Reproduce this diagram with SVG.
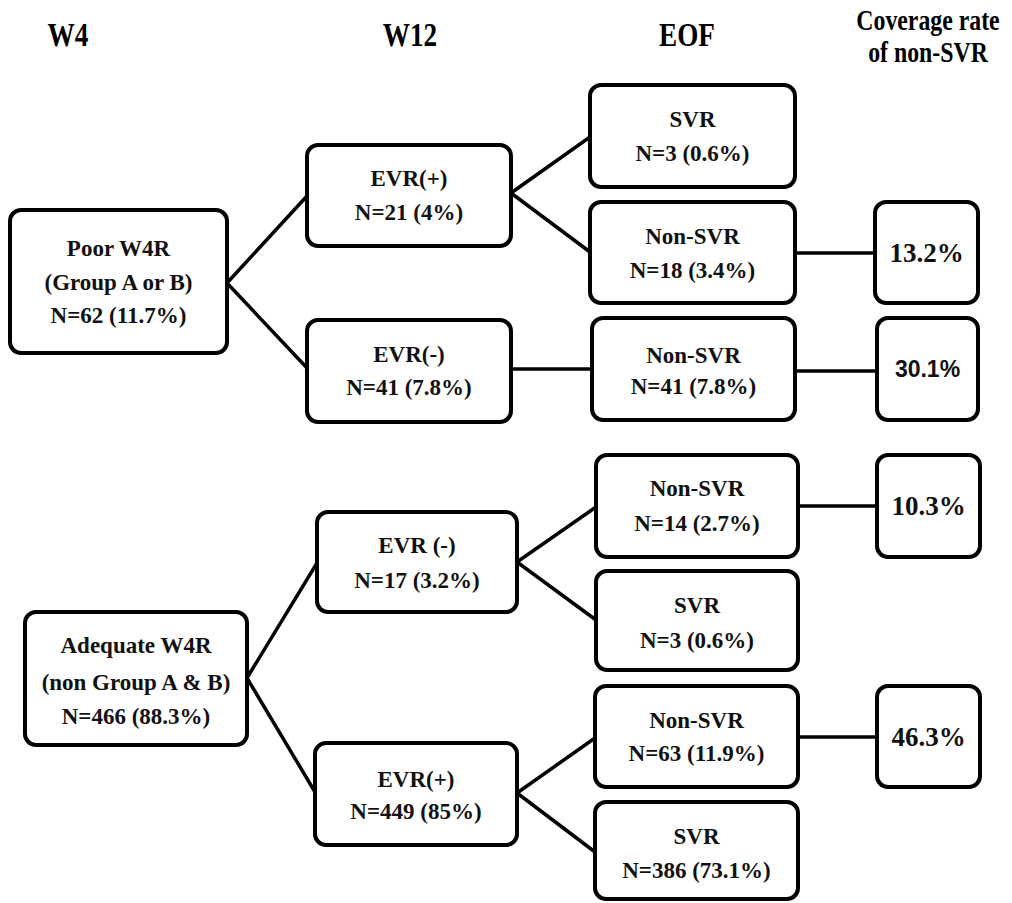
<svg xmlns="http://www.w3.org/2000/svg" width="1012" height="903" viewBox="0 0 1012 903">
<style>
.box{fill:#fff;stroke:#000;stroke-width:4;}
.t{font-family:"Liberation Serif","Times New Roman",serif;font-weight:bold;font-size:23px;fill:#111;text-anchor:middle;}
.pct{font-family:"Liberation Serif","Times New Roman",serif;font-weight:bold;font-size:27px;fill:#111;text-anchor:middle;}
.pcts{font-family:"Liberation Sans",Arial,sans-serif;font-weight:bold;font-size:23px;fill:#111;text-anchor:middle;}
.h{font-family:"Liberation Serif","Times New Roman",serif;font-weight:bold;font-size:32px;fill:#000;text-anchor:middle;}
.h2{font-family:"Liberation Serif","Times New Roman",serif;font-weight:bold;font-size:28px;fill:#000;text-anchor:middle;}
.c{stroke:#000;stroke-width:3.5;fill:none;}
</style>
<rect width="1012" height="903" fill="#fff"/>
<g id="headers">
<text class="h" transform="translate(68,46) scale(0.85,1.08)">W4</text>
<text class="h" transform="translate(410,46) scale(0.85,1.08)">W12</text>
<text class="h" transform="translate(687,46) scale(0.85,1.08)">EOF</text>
<text class="h2" transform="translate(928,30) scale(0.85,1.08)">Coverage rate</text>
<text class="h2" transform="translate(928,62) scale(0.85,1.08)">of non-SVR</text>
</g>
<g id="connectors">
<line class="c" x1="227" y1="283" x2="307" y2="196"/>
<line class="c" x1="227" y1="283" x2="307" y2="368"/>
<line class="c" x1="511" y1="193" x2="590" y2="137"/>
<line class="c" x1="511" y1="193" x2="590" y2="252"/>
<line class="c" x1="511" y1="369" x2="592" y2="369"/>
<line class="c" x1="795" y1="253" x2="875" y2="253"/>
<line class="c" x1="795" y1="371" x2="877" y2="371"/>
<line class="c" x1="247" y1="678" x2="317" y2="563"/>
<line class="c" x1="247" y1="678" x2="315" y2="792"/>
<line class="c" x1="517" y1="562" x2="596" y2="507"/>
<line class="c" x1="517" y1="562" x2="596" y2="620"/>
<line class="c" x1="517" y1="793" x2="595" y2="738"/>
<line class="c" x1="517" y1="793" x2="595" y2="852"/>
<line class="c" x1="798" y1="506" x2="877" y2="506"/>
<line class="c" x1="798" y1="737" x2="877" y2="737"/>
</g>
<g id="poor">
<rect class="box" x="10" y="210" width="217" height="143" rx="11"/>
<text class="t" x="118.5" y="256">Poor W4R</text>
<text class="t" x="118.5" y="290">(Group A or B)</text>
<text class="t" x="118.5" y="323">N=62 (11.7%)</text>
</g>
<g id="evr-pos-1">
<rect class="box" x="307" y="145" width="204" height="101" rx="11"/>
<text class="t" x="409" y="186">EVR(+)</text>
<text class="t" x="409" y="220">N=21 (4%)</text>
</g>
<g id="evr-neg-1">
<rect class="box" x="307" y="320" width="204" height="102" rx="11"/>
<text class="t" x="409" y="362">EVR(-)</text>
<text class="t" x="409" y="395">N=41 (7.8%)</text>
</g>
<g id="svr-1">
<rect class="box" x="590" y="85" width="205" height="102" rx="11"/>
<text class="t" x="692.5" y="127">SVR</text>
<text class="t" x="692.5" y="161">N=3 (0.6%)</text>
</g>
<g id="nonsvr-18">
<rect class="box" x="590" y="202" width="205" height="101" rx="11"/>
<text class="t" x="692.5" y="244">Non-SVR</text>
<text class="t" x="692.5" y="278">N=18 (3.4%)</text>
</g>
<g id="nonsvr-41">
<rect class="box" x="592" y="318" width="203" height="102" rx="11"/>
<text class="t" x="693.5" y="363">Non-SVR</text>
<text class="t" x="693.5" y="394">N=41 (7.8%)</text>
</g>
<g id="cov-13">
<rect class="box" x="875" y="202" width="103" height="101" rx="11"/>
<text class="pct" x="926.5" y="262">13.2%</text>
</g>
<g id="cov-30">
<rect class="box" x="877" y="318" width="101" height="102" rx="11"/>
<text class="pcts" x="927.5" y="377">30.1%</text>
</g>
<g id="adequate">
<rect class="box" x="25" y="612" width="222" height="133" rx="11"/>
<text class="t" x="136" y="653">Adequate W4R</text>
<text class="t" x="136" y="690">(non Group A &amp; B)</text>
<text class="t" x="136" y="724">N=466 (88.3%)</text>
</g>
<g id="evr-neg-2">
<rect class="box" x="317" y="512" width="200" height="100" rx="11"/>
<text class="t" x="417" y="553">EVR (-)</text>
<text class="t" x="417" y="588">N=17 (3.2%)</text>
</g>
<g id="evr-pos-2">
<rect class="box" x="315" y="743" width="202" height="102" rx="11"/>
<text class="t" x="416" y="787">EVR(+)</text>
<text class="t" x="416" y="819">N=449 (85%)</text>
</g>
<g id="nonsvr-14">
<rect class="box" x="596" y="455" width="202" height="102" rx="11"/>
<text class="t" x="697" y="496">Non-SVR</text>
<text class="t" x="697" y="531">N=14 (2.7%)</text>
</g>
<g id="cov-10">
<rect class="box" x="877" y="455" width="103" height="102" rx="11"/>
<text class="pct" x="928.5" y="515">10.3%</text>
</g>
<g id="svr-3b">
<rect class="box" x="596" y="571" width="202" height="99" rx="11"/>
<text class="t" x="697" y="613">SVR</text>
<text class="t" x="697" y="648">N=3 (0.6%)</text>
</g>
<g id="nonsvr-63">
<rect class="box" x="595" y="686" width="203" height="101" rx="11"/>
<text class="t" x="696.5" y="728">Non-SVR</text>
<text class="t" x="696.5" y="761">N=63 (11.9%)</text>
</g>
<g id="cov-46">
<rect class="box" x="877" y="686" width="103" height="101" rx="11"/>
<text class="pct" x="928.5" y="746">46.3%</text>
</g>
<g id="svr-386">
<rect class="box" x="595" y="802" width="203" height="97" rx="11"/>
<text class="t" x="696.5" y="844">SVR</text>
<text class="t" x="696.5" y="878">N=386 (73.1%)</text>
</g>
</svg>
